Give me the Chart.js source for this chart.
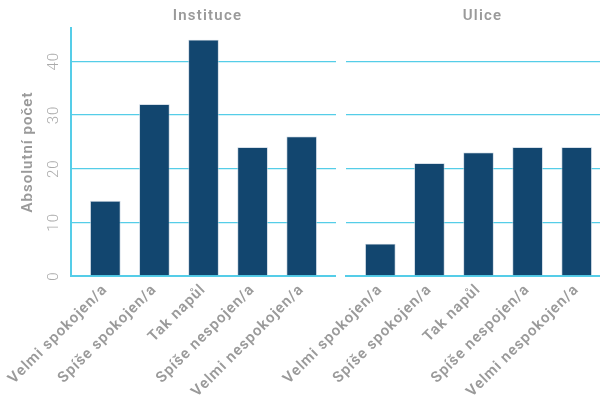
<!DOCTYPE html>
<html><head><meta charset="utf-8">
<script src="https://cdn.jsdelivr.net/npm/chart.js@4"></script>
<style>
html,body{margin:0;padding:0;width:600px;height:397px;overflow:hidden;background:#fff;position:relative}
canvas{position:absolute;top:0;left:0}
</style></head><body>
<canvas id="c1" width="336" height="397"></canvas>
<canvas id="c2" width="611" height="397"></canvas>
<script>
const categories = ['Velmi spokojen/a','Spíše spokojen/a','Tak napůl','Spíše nespojen/a','Velmi nespokojen/a'];
const instituceValues = [14,32,44,24,26];
const uliceValues = [6,21,23,24,24];
const facetTitles = ['Instituce','Ulice'];
const yTickValues = [0,10,20,30,40];
const yTitle = 'Absolutní počet';

const BAR = '#12466F';
const CYAN = '#55CDE8';
const GREY = '#9a9a9a';
const FONT = 'Roboto';

const spacingPlugin = {
  id:'spacing',
  beforeUpdate(c){ c.ctx.letterSpacing='1px'; },
  beforeDraw(c){ c.ctx.letterSpacing='1px'; }
};
const facetPlugin = {
  id:'facet',
  afterDraw(c, args, opts){
    const ctx=c.ctx, a=c.chartArea;
    ctx.save();
    ctx.letterSpacing='1.2px';
    ctx.font='600 15px '+FONT;
    ctx.fillStyle=GREY;
    ctx.textAlign='center';
    ctx.textBaseline='middle';
    ctx.fillText(opts.text,(a.left+a.right)/2+(opts.dx||0),16);
    ctx.restore();
  }
};

function makeChart(id, title, values, showY, yWidth){
  return new Chart(document.getElementById(id),{
    type:'bar',
    data:{datasets:[{
      data:values.map((v,i)=>({x:i,y:v})),
      backgroundColor:BAR,
      borderColor:'#b9c9d8',
      borderWidth:0.8,
      barPercentage:0.62,
      categoryPercentage:1
    }]},
    options:{
      responsive:false,
      animation:false,
      layout:{padding:{top:28,right:0,left:0,bottom:0}},
      plugins:{legend:{display:false},tooltip:{enabled:false},facet:{text:title,dx:4}},
      scales:{
        x:{
          type:'linear',min:-0.7,max:4.7,offset:false,
          afterBuildTicks(s){ s.ticks=categories.map((_,i)=>({value:i})); },
          afterFit(s){ s.height=121; s.paddingLeft=0; s.paddingRight=0; },
          grid:{display:false,drawTicks:false,offset:false},
          border:{display:true,color:CYAN,width:2},
          ticks:{
            minRotation:45,maxRotation:45,autoSkip:false,padding:5,
            color:GREY,font:{family:FONT,size:15,weight:'600'},
            callback:(v)=>categories[v]
          }
        },
        y:{
          min:0,max:46.2,
          afterBuildTicks(s){ s.ticks=yTickValues.map(v=>({value:v})); },
          afterFit(s){ s.width=yWidth; s.paddingTop=0; s.paddingBottom=0; },
          grid:{color:CYAN,lineWidth:1.3,drawTicks:false},
          border:{display:showY,color:CYAN,width:2},
          ticks:{
            display:showY,minRotation:90,maxRotation:90,crossAlign:'center',padding:7,
            color:'#ababab',font:{family:FONT,size:15,weight:'300'}
          },
          title:{display:showY,text:yTitle,color:GREY,padding:{top:19,bottom:0},
            font:{family:FONT,size:15,weight:'600'}}
        }
      }
    },
    plugins:[spacingPlugin,facetPlugin]
  });
}
makeChart('c1',facetTitles[0],instituceValues,true,71);
makeChart('c2',facetTitles[1],uliceValues,false,346);
</script>
</body></html>
